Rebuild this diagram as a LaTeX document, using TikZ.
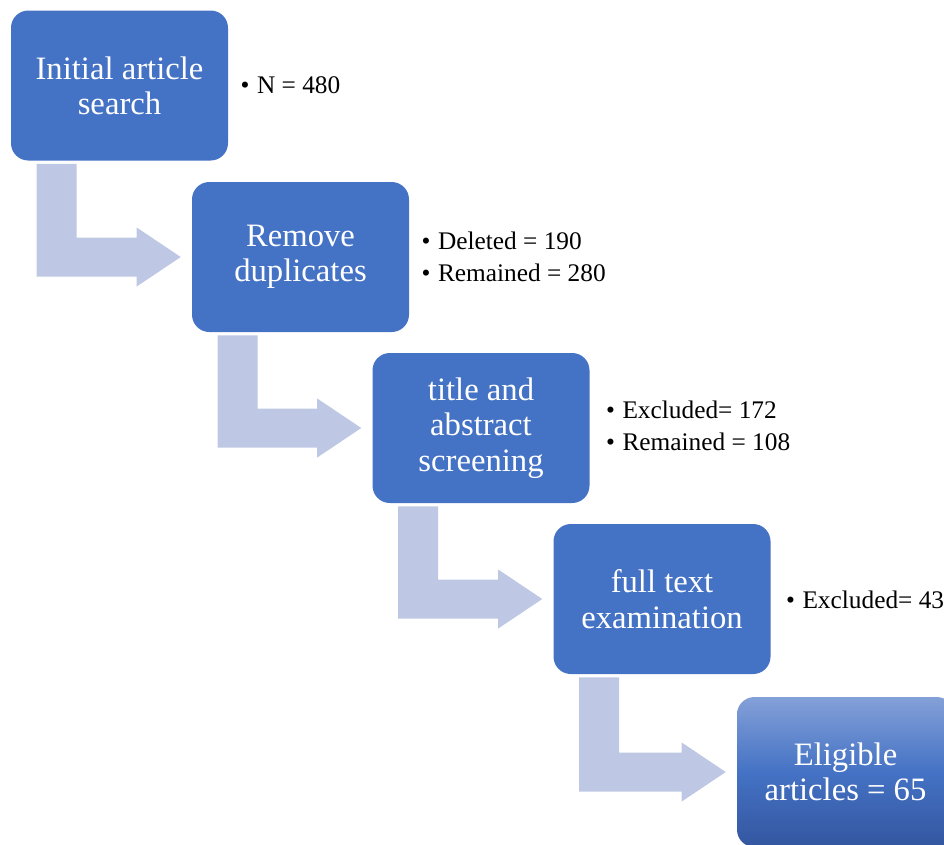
\documentclass[tikz,border=0pt]{standalone}
\usepackage{fontspec}
\setmainfont{Liberation Serif}
\usetikzlibrary{calc,backgrounds}
\definecolor{boxblue}{RGB}{68,114,196}
\definecolor{arrowblue}{RGB}{190,200,228}
\definecolor{gradtop}{RGB}{132,160,216}
\definecolor{gradbot}{RGB}{52,86,160}
\tikzset{
  stepbox/.style={rounded corners=13pt, fill=boxblue, text=white, align=center,
    minimum width=162.75pt, minimum height=112.5pt, inner sep=0pt,
    font=\fontsize{24.5}{26.5}\selectfont},
  lastbox/.style={stepbox, fill=none, top color=gradtop, bottom color=gradbot, middle color=boxblue},
  note/.style={anchor=west, align=left, inner sep=0pt, font=\fontsize{19}{24}\selectfont},
  bent/.style={fill=arrowblue, draw=none}
}
\newcommand{\bul}{\textbullet\hspace{0.3em}}
\newcommand{\bentarrow}[2]{%
  \coordinate (sl) at ($(#1.south west)+(26,3)$);
  \coordinate (sr) at ($(#1.south west)+(66,3)$);
  \coordinate (cr) at (sr |- #2.west);
  \coordinate (cl) at (sl |- #2.west);
  \fill[bent]
    (sl) -- (sr) --
    ($(cr)+(0,-19.5)$) --
    ($(#2.west)+(-55,-19.5)$) --
    ($(#2.west)+(-55,-29.5)$) --
    ($(#2.west)+(-11,0)$) --
    ($(#2.west)+(-55,29.5)$) --
    ($(#2.west)+(-55,19.5)$) --
    ($(cl)+(0,19.5)$) -- cycle;}
\begin{document}
\begin{tikzpicture}[x=0.75pt,y=-0.75pt]
\useasboundingbox (0,0) rectangle (944,844);
\clip (0,0) rectangle (944,844);
\node[stepbox] (b1) at (119.5,85.5) {Initial article\\search};
\node[stepbox] (b2) at (300.5,257) {Remove\\duplicates};
\node[stepbox] (b3) at (481,428) {title and\\abstract\\screening};
\node[stepbox] (b4) at (662,599) {full text\\examination};
\node[lastbox] (b5) at (845.5,772) {Eligible\\articles = 65};
\node[note] (n1) at ($(b1.east)+(12,0)$) {\bul N = 480};
\node[note] (n2) at ($(b2.east)+(12,0)$) {\bul Deleted = 190\\\bul Remained = 280};
\node[note] (n3) at ($(b3.east)+(16,-2)$) {\bul Excluded= 172\\\bul Remained = 108};
\node[note] (n4) at ($(b4.east)+(15,1)$) {\bul Excluded= 43};
\begin{pgfonlayer}{background}
\bentarrow{b1}{b2}
\bentarrow{b2}{b3}
\bentarrow{b3}{b4}
\bentarrow{b4}{b5}
\end{pgfonlayer}
\end{tikzpicture}
\end{document}
